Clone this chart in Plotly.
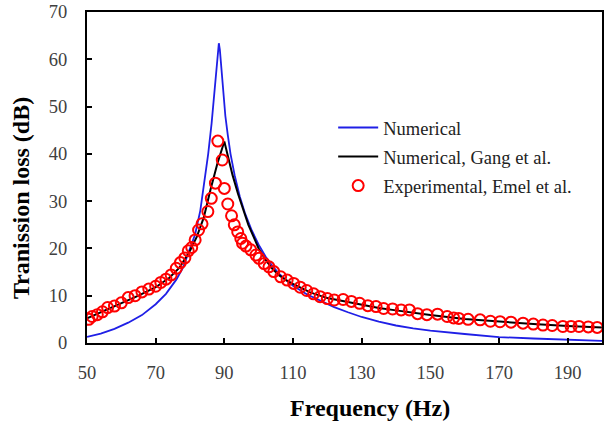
import plotly.graph_objects as go

# Numerical (blue)
num_f = [50, 54, 58, 62, 66, 70, 73, 76, 78, 80, 81.5, 83, 84.3, 85.3, 86.3, 87.2, 87.8, 88.2, 88.4,
         88.7, 89.1, 89.6, 90.3, 91.0, 91.8, 93.0, 94.5, 96.0, 98.0, 100, 102, 104, 106, 108, 110,
         114, 118, 122, 126, 130, 135, 140, 145, 150, 160, 170, 180, 190, 200]
num_tl = [1.3, 2.0, 3.0, 4.3, 5.9, 8.2, 10.4, 13.4, 16.0, 19.8, 23.0, 28.0, 34.5, 40.0, 46.5, 53.5, 58.0, 62.5, 63.4,
          62.0, 58.5, 53.5, 48.0, 44.0, 40.0, 35.5, 31.0, 27.5, 23.8, 20.8, 18.3, 16.3, 14.6, 13.3, 12.1,
          10.3, 8.9, 7.6, 6.5, 5.5, 4.5, 3.7, 3.1, 2.6, 1.9, 1.25, 0.95, 0.7, 0.45]

# Numerical, Gang et al. (black)
gang_f = [50, 55, 60, 65, 70, 74, 77, 80, 82, 84, 86, 88, 90, 91.2, 92.4, 94, 95.5, 97, 98.5, 100,
          102, 104, 106, 108, 110, 115, 120, 125, 130, 135, 140, 145, 150, 160, 170, 180, 190, 200]
gang_tl = [5.2, 6.8, 8.4, 10.0, 11.8, 13.8, 16.0, 19.5, 22.5, 26.5, 32.5, 38.0, 42.6, 39.0, 35.5, 31.5, 28.0, 25.0, 22.5, 20.0,
           17.6, 15.7, 14.3, 13.3, 12.5, 10.7, 9.5, 8.8, 8.1, 7.4, 6.9, 6.4, 5.9, 5.1, 4.5, 4.0, 3.6, 3.3]

# Experimental, Emel et al. (red circles)
exp_f = [50.5, 51.5, 53, 54.5, 56, 58, 60, 62, 64, 66, 68, 70, 71.5, 73, 74.5, 76, 77.2, 78.5, 79.5, 80.5,
         81.5, 82.5, 83.5, 85.2, 86.2, 87.4, 88.1, 89.4, 90.0, 91.0, 92.1, 92.9, 93.9, 94.8, 95.3, 96.3,
         97.7, 99.2, 100.1, 101.6, 103.0, 104.4, 106.4, 108.3, 110.2, 112.1, 114.0, 116.0, 117.9, 120,
         122.0, 124.6, 127.0, 129.4, 131.8, 134.2, 136.4, 139, 141.5, 143.9, 146.3, 149, 152.1, 154.9,
         156.8, 158.3, 161, 164.5, 167.5, 170.3, 173.5, 177, 180, 182.8, 185.5, 188.6, 191, 193.3, 196, 198.6]
exp_tl = [5.0, 5.6, 6.0, 6.6, 7.5, 7.8, 8.5, 9.6, 10.0, 10.8, 11.4, 12.0, 12.8, 13.5, 14.4, 15.8, 17.0, 18.0, 19.5, 20.2,
          21.8, 23.9, 25.2, 27.8, 30.6, 33.8, 42.7, 38.7, 32.7, 29.4, 26.9, 25.0, 23.5, 22.1, 21.1, 20.5,
          19.7, 18.6, 17.9, 16.8, 16.1, 15.1, 14.0, 13.3, 12.6, 11.8, 11.1, 10.4, 9.8, 9.4,
          9.1, 9.2, 8.8, 8.4, 7.9, 7.7, 7.3, 7.2, 7.0, 7.0, 6.2, 6.0, 6.1, 5.6,
          5.3, 5.2, 5.0, 4.9, 4.6, 4.5, 4.4, 4.2, 4.0, 3.8, 3.7, 3.5, 3.5, 3.5, 3.4, 3.3]

x_ticks = [50, 70, 90, 110, 130, 150, 170, 190]
y_ticks = [0, 10, 20, 30, 40, 50, 60, 70]

serif = "Liberation Serif, Times New Roman, serif"

fig = go.Figure()
fig.add_trace(go.Scatter(x=num_f, y=num_tl, mode="lines", name="Numerical",
                         line=dict(color="#1f1fe6", width=1.8), legendgroup="a"))
fig.add_trace(go.Scatter(x=gang_f, y=gang_tl, mode="lines", name="Numerical, Gang et al.",
                         line=dict(color="black", width=2), legendgroup="b"))
fig.add_trace(go.Scatter(x=exp_f, y=exp_tl, mode="markers", name="Experimental, Emel et al.",
                         marker=dict(symbol="circle-open", size=11, color="#ff0000",
                                     line=dict(width=2, color="#ff0000")), legendgroup="c"))

axis_common = dict(showgrid=False, zeroline=False, showline=True, linecolor="black", linewidth=2,
                   mirror=True, ticks="inside", ticklen=5, tickwidth=2, tickcolor="black",
                   tickfont=dict(family=serif, size=18.5, color="#404040"))

fig.update_layout(
    width=606, height=428,
    margin=dict(l=87, r=2, t=12, b=85),
    paper_bgcolor="white", plot_bgcolor="white",
    xaxis=dict(range=[50, 200], tickvals=x_ticks, ticktext=[str(v) for v in x_ticks],
               ticklabelstandoff=12, **axis_common),
    yaxis=dict(range=[0, 70], tickvals=y_ticks, ticktext=[str(v) for v in y_ticks],
               ticklabelstandoff=14, **axis_common),
    legend=dict(x=0.478, y=0.707, xanchor="left", yanchor="top", bgcolor="rgba(0,0,0,0)",
                font=dict(family=serif, size=18.5, color="#222222"),
                traceorder="grouped", tracegroupgap=2, itemwidth=40),
    showlegend=True,
    annotations=[
        dict(text="<b>Frequency (Hz)</b>", xref="paper", yref="paper", x=0.549, y=-0.196,
             xanchor="center", yanchor="middle", showarrow=False,
             font=dict(family=serif, size=24, color="black")),
        dict(text="<b>Tranission loss (dB)</b>", xref="paper", yref="paper", x=-0.128, y=0.438,
             xanchor="center", yanchor="middle", showarrow=False, textangle=-90,
             font=dict(family=serif, size=24, color="black")),
    ],
)

fig.write_html("out.html")
